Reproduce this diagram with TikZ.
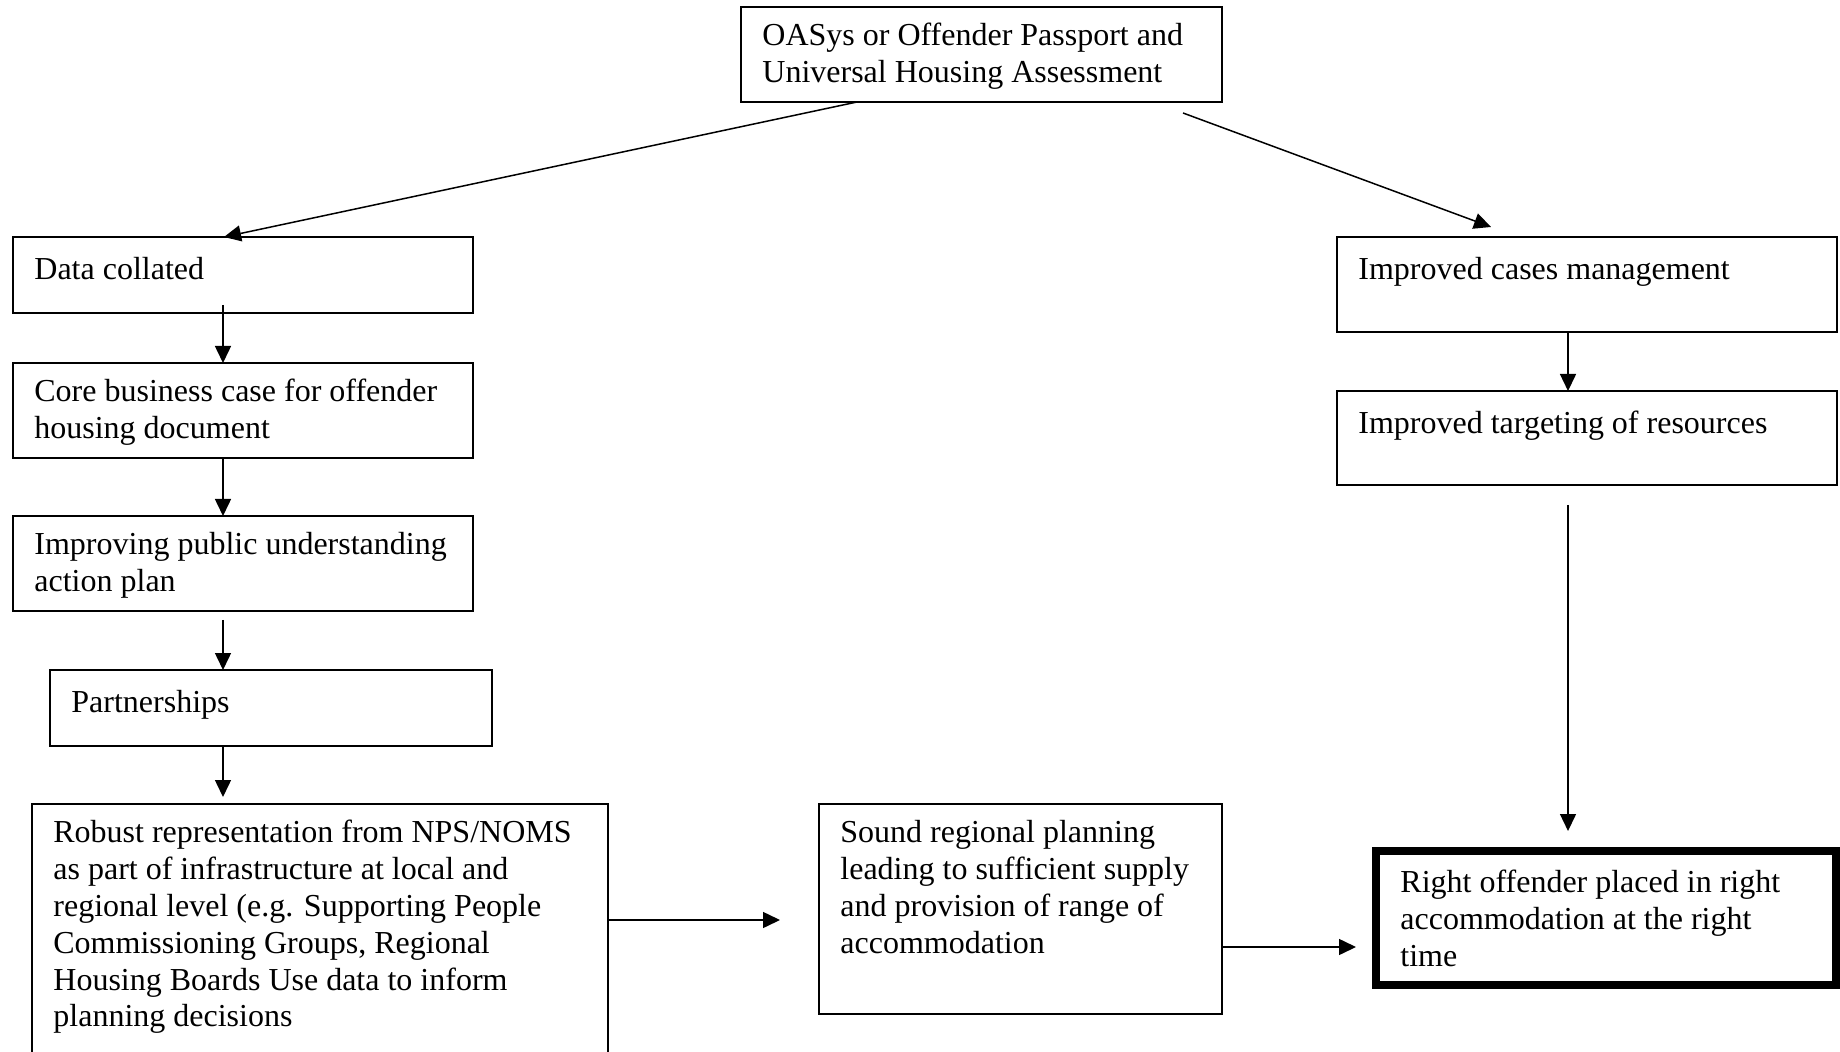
\documentclass[tikz,border=0pt]{standalone}
\usepackage{fontspec}
\setmainfont{Liberation Serif}
\usetikzlibrary{arrows.meta,calc}

\tikzset{
  box/.style={draw, line width=0.8pt, anchor=north west, inner sep=0pt, outer sep=0pt},
  txt/.style={anchor=north west, align=left, inner sep=0pt, font=\fontsize{16pt}{18.4pt}\selectfont,
    execute at begin node=\strut},
  arr/.style={line width=0.75pt, -{Triangle[length=8.5pt,width=8pt]}},
}

\begin{document}
\begin{tikzpicture}[x=0.5pt, y=-0.5pt]
    \useasboundingbox (0,0) rectangle (1840,1052);
    \clip (0,0) rectangle (1840,1052);

    % boxes
    \node[box, minimum width=240.5pt, minimum height=47.5pt] (top) at (741,7) {};
    \node[box, minimum width=230pt, minimum height=38pt] (data) at (13,237) {};
    \node[box, minimum width=230pt, minimum height=47.5pt] (core) at (13,363) {};
    \node[box, minimum width=230pt, minimum height=47.5pt] (pub) at (13,516) {};
    \node[box, minimum width=221pt, minimum height=38pt] (part) at (50,670) {};
    \node[box, minimum width=288pt, minimum height=135pt] (robust) at (32,804) {};
    \node[box, minimum width=201.5pt, minimum height=105pt] (sound) at (819,804) {};
    \node[box, minimum width=250pt, minimum height=47.5pt] (cases) at (1337,237) {};
    \node[box, minimum width=250pt, minimum height=47pt] (target) at (1337,391) {};
    \node[box, line width=4pt, minimum width=230pt, minimum height=67pt] (right) at (1376,851) {};

    % texts
    \node[txt] (t-top) at ([shift={(21,16)}]top.north west) {OASys or Offender Passport and\\Universal Housing Assessment};
    \node[txt] (t-data) at ([shift={(21,16)}]data.north west) {Data collated};
    \node[txt] (t-core) at ([shift={(21,16)}]core.north west) {Core business case for offender\\housing document};
    \node[txt] (t-pub) at ([shift={(21,16)}]pub.north west) {Improving public understanding\\action plan};
    \node[txt] (t-part) at ([shift={(21,16)}]part.north west) {Partnerships};
    \node[txt] (t-robust) at ([shift={(21,16)}]robust.north west) {Robust representation from NPS/NOMS\\as part of infrastructure at local and\\regional level (e.g. Supporting People\\Commissioning Groups, Regional\\Housing Boards Use data to inform\\planning decisions};
    \node[txt] (t-sound) at ([shift={(21,16)}]sound.north west) {Sound regional planning\\leading to sufficient supply\\and provision of range of\\accommodation};
    \node[txt] (t-cases) at ([shift={(21,16)}]cases.north west) {Improved cases management};
    \node[txt] (t-target) at ([shift={(21,16)}]target.north west) {Improved targeting of resources};
    \node[txt] (t-right) at ([shift={(24,19)}]right.north west) {Right offender placed in right\\accommodation at the right\\time};

    % free ends of the connectors
    \coordinate (topL) at (857,102);
    \coordinate (topR) at (1183,113);
    \coordinate (dataIn) at (224,237);
    \coordinate (casesIn) at (1491,227);
    \coordinate (dataOut) at (223,305);
    \coordinate (pubOut) at (223,620);
    \coordinate (robustIn) at (223,797);
    \coordinate (robustOut) at (608,920);
    \coordinate (soundIn) at (780,920);
    \coordinate (soundOut) at (1222,947);
    \coordinate (rightIn) at (1356,947);
    \coordinate (targetOut) at (1568,505);
    \coordinate (rightTop) at (1568,831);

    % connectors
    \draw[arr] (topL) -- (dataIn);
    \draw[arr] (topR) -- (casesIn);
    \draw[arr] (dataOut) -- (dataOut |- core.north);
    \draw[arr] (core.south -| dataOut) -- (pub.north -| dataOut);
    \draw[arr] (pubOut) -- (part.north -| pubOut);
    \draw[arr] (part.south -| pubOut) -- (robustIn);
    \draw[arr] (robustOut) -- (soundIn);
    \draw[arr] (soundOut) -- (rightIn);
    \draw[arr] (cases.south -| targetOut) -- (target.north -| targetOut);
    \draw[arr] (targetOut) -- (rightTop);
\end{tikzpicture}
\end{document}
